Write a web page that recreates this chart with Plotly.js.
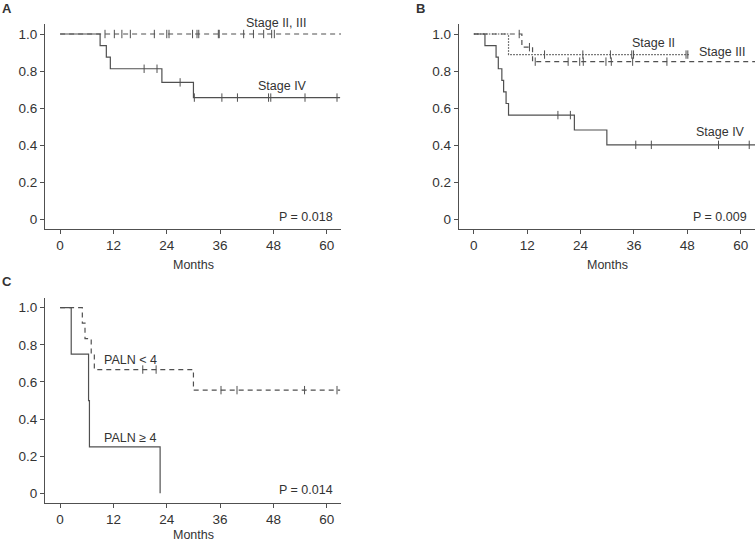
<!DOCTYPE html>
<html><head><meta charset="utf-8">
<script src="https://cdn.plot.ly/plotly-3.0.1.min.js"></script>
<style>html,body{margin:0;padding:0;background:#fff}#chart{width:756px;height:542px}</style>
</head><body><div id="chart"></div>
<script>
// ---- tick labels ----
const xTickVals = [0, 12, 24, 36, 48, 60];
const yTickVals = [0, 0.2, 0.4, 0.6, 0.8, 1.0];
const yTickText = ['0', '0.2', '0.4', '0.6', '0.8', '1.0'];

// ---- Panel A ----
const aS23Time = [0, 63.2];
const aS23Surv = [1, 1];
const aS23Cens = [10.1, 12.2, 13.9, 15.8, 21.2, 24.0, 24.5, 29.8, 30.8, 31.2, 35.6, 35.8, 41.3, 43.5, 45.8, 47.6, 48.2];
const aS4Time = [0, 9.0, 10.4, 11.3, 22.9, 30.0, 63.0];
const aS4Surv = [1, 0.9375, 0.875, 0.8125, 0.739, 0.657, 0.657];
const aS4Cens = [18.9, 21.8, 27.0, 30.2, 36.4, 39.9, 46.9, 47.4, 55.1, 62.3];

// ---- Panel B ----
const bS2Time = [0, 7.8, 48.4];
const bS2Surv = [1, 0.889, 0.889];
const bS2Cens = [15.9, 24.5, 30.7, 35.5, 35.9, 47.7, 48.1];
const bS3Time = [0, 10.8, 13.2, 63.2];
const bS3Surv = [1, 0.929, 0.851, 0.851];
const bS3Cens = [10.2, 12.5, 13.8, 21.2, 23.8, 24.6, 29.7, 30.9, 35.7, 43.4];
const bS4Time = [0, 2.5, 5.0, 5.5, 6.3, 6.7, 7.25, 7.8, 22.6, 29.9, 63.2];
const bS4Surv = [1, 0.9375, 0.875, 0.8125, 0.75, 0.6875, 0.625, 0.5625, 0.482, 0.402, 0.402];
const bS4Cens = [18.9, 21.7, 36.4, 39.9, 55.0, 61.9];

// ---- Panel C ----
const cLtTime = [0, 5.0, 5.6, 7.0, 7.7, 30.0, 63.0];
const cLtSurv = [1, 0.917, 0.833, 0.75, 0.667, 0.556, 0.556];
const cLtCens = [18.6, 21.6, 36.2, 39.8, 55.0, 62.3];
const cGeTime = [0, 2.5, 6.4, 6.6, 22.5];
const cGeSurv = [1, 0.75, 0.5, 0.25, 0];

const LINE = '#505050';
const TXT = '#333333';
const FONT = 'Liberation Sans, Arial, sans-serif';

function stepAt(times, surv, t) {
  let s = surv[0];
  for (let i = 0; i < times.length; i++) if (times[i] <= t) s = surv[i];
  return s;
}
function curve(times, surv, dash, xa, ya) {
  return {x: times, y: surv, mode: 'lines', line: {shape: 'hv', color: LINE, width: 1.2, dash: dash},
          xaxis: xa, yaxis: ya, hoverinfo: 'skip', showlegend: false};
}
function cens(times, surv, c, xa, ya) {
  return {x: c, y: c.map(t => stepAt(times, surv, t)), mode: 'markers',
          marker: {symbol: 'line-ns-open', size: 6, color: LINE, line: {color: LINE, width: 1}},
          xaxis: xa, yaxis: ya, hoverinfo: 'skip', showlegend: false};
}

const DASH = '5px,4px';
const DOT = '1.5px,1.5px';
const traces = [
  curve(aS23Time, aS23Surv, DASH, 'x', 'y'), cens(aS23Time, aS23Surv, aS23Cens, 'x', 'y'),
  curve(aS4Time, aS4Surv, 'solid', 'x', 'y'), cens(aS4Time, aS4Surv, aS4Cens, 'x', 'y'),
  curve(bS2Time, bS2Surv, DOT, 'x2', 'y2'), cens(bS2Time, bS2Surv, bS2Cens, 'x2', 'y2'),
  curve(bS3Time, bS3Surv, DASH, 'x2', 'y2'), cens(bS3Time, bS3Surv, bS3Cens, 'x2', 'y2'),
  curve(bS4Time, bS4Surv, 'solid', 'x2', 'y2'), cens(bS4Time, bS4Surv, bS4Cens, 'x2', 'y2'),
  curve(cLtTime, cLtSurv, DASH, 'x3', 'y3'), cens(cLtTime, cLtSurv, cLtCens, 'x3', 'y3'),
  curve(cGeTime, cGeSurv, 'solid', 'x3', 'y3')
];

const W = 756, H = 542;
const px = v => v / W, py = v => 1 - v / H;
const axBase = {showline: true, linecolor: LINE, linewidth: 1, ticks: 'outside', ticklen: 4, tickwidth: 1,
  tickcolor: LINE, showgrid: false, zeroline: false, fixedrange: true,
  tickfont: {family: FONT, size: 13.5, color: TXT}};
const xAx = (d, anchor) => Object.assign({}, axBase, {domain: d, anchor: anchor, range: [-3.4, 63.2], tickmode: 'array', tickvals: xTickVals});
const yAx = (d, anchor) => Object.assign({}, axBase, {domain: d, anchor: anchor, range: [-0.052, 1.054], tickmode: 'array', tickvals: yTickVals, ticktext: yTickText});

function ann(text, x, y, opts) {
  return Object.assign({text: text, xref: 'paper', yref: 'paper', x: px(x), y: py(y), xanchor: 'center', yanchor: 'middle',
    showarrow: false, font: {family: FONT, size: 12.5, color: TXT}}, opts || {});
}

const layout = {
  width: W, height: H, margin: {l: 0, r: 0, t: 0, b: 0}, paper_bgcolor: '#fff', plot_bgcolor: '#fff',
  showlegend: false,
  xaxis: xAx([px(45), px(341)], 'y'),
  yaxis: yAx([py(229), py(24)], 'x'),
  xaxis2: xAx([px(458.7), px(755)], 'y2'),
  yaxis2: yAx([py(229), py(24)], 'x2'),
  xaxis3: xAx([px(45), px(341)], 'y3'),
  yaxis3: yAx([py(503), py(297.7)], 'x3'),
  annotations: [
    ann('<b>A</b>', 7, 8, {font: {family: FONT, size: 13, color: TXT}}),
    ann('<b>B</b>', 420, 8, {font: {family: FONT, size: 13, color: TXT}}),
    ann('<b>C</b>', 7, 282, {font: {family: FONT, size: 13, color: TXT}}),
    ann('Stage II, III', 276, 22.7),
    ann('Stage IV', 282.7, 86),
    ann('P = 0.018', 306, 216.7),
    ann('Months', 193, 265),
    ann('Stage II', 653.8, 43.3),
    ann('Stage III', 722.7, 52.3),
    ann('Stage IV', 720.7, 132.3),
    ann('P = 0.009', 720.2, 216.7),
    ann('Months', 607, 265),
    ann('PALN &lt; 4', 130.8, 360),
    ann('PALN ≥ 4', 130.8, 437.7),
    ann('P = 0.014', 306, 490),
    ann('Months', 193, 534.5)
  ]
};
Plotly.newPlot('chart', traces, layout, {displayModeBar: false, staticPlot: true});
</script></body></html>
